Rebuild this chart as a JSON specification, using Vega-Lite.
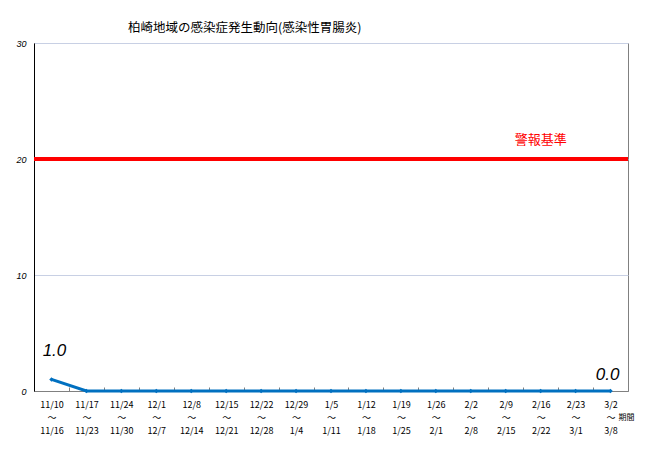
{
  "$schema": "https://vega.github.io/schema/vega-lite/v6.json",
  "autosize": "none",
  "width": 594,
  "height": 348,
  "padding": {"left": 34, "top": 43, "right": 20, "bottom": 67},
  "background": "white",
  "title": {
    "text": "柏崎地域の感染症発生動向(感染性胃腸炎)",
    "anchor": "start",
    "dx": 112,
    "offset": 5,
    "font": "Noto Sans CJK JP",
    "fontSize": 12.5,
    "fontWeight": "normal",
    "color": "black"
  },
  "data": {
    "values": [
      {"week": "11/10~11/16", "value": 1.0},
      {"week": "11/17~11/23", "value": 0},
      {"week": "11/24~11/30", "value": 0},
      {"week": "12/1~12/7", "value": 0},
      {"week": "12/8~12/14", "value": 0},
      {"week": "12/15~12/21", "value": 0},
      {"week": "12/22~12/28", "value": 0},
      {"week": "12/29~1/4", "value": 0},
      {"week": "1/5~1/11", "value": 0},
      {"week": "1/12~1/18", "value": 0},
      {"week": "1/19~1/25", "value": 0},
      {"week": "1/26~2/1", "value": 0},
      {"week": "2/2~2/8", "value": 0},
      {"week": "2/9~2/15", "value": 0},
      {"week": "2/16~2/22", "value": 0},
      {"week": "2/23~3/1", "value": 0},
      {"week": "3/2~3/8", "value": 0.0}
    ]
  },
  "layer": [
    {
      "mark": {
        "type": "line",
        "color": "#0070C0",
        "strokeWidth": 3,
        "point": {"shape": "diamond", "size": 20, "filled": true, "color": "#0070C0"}
      },
      "encoding": {
        "x": {
          "field": "week",
          "type": "ordinal",
          "sort": null,
          "scale": {"paddingInner": 0, "paddingOuter": 0},
          "axis": {
            "title": "期間",
            "titleX": 584,
            "titleY": 26,
            "titleAlign": "left",
            "titleBaseline": "middle",
            "titleFont": "Noto Sans CJK JP",
            "titleFontSize": 8,
            "titleFontWeight": "normal",
            "titleColor": "black",
            "labelAngle": 0,
            "labelExpr": "isString(datum.value) && indexof(datum.value, '~') >= 0 ? [split(datum.value,'~')[0], '〜', split(datum.value,'~')[1]] : ''",
            "labelFont": "Noto Sans CJK JP",
            "labelFontSize": 9,
            "labelLineHeight": 13,
            "labelColor": "black",
            "labelPadding": 13,
            "tickBand": "extent",
            "tickSize": -4,
            "tickColor": "#808080",
            "domainColor": "#808080"
          }
        },
        "y": {
          "field": "value",
          "type": "quantitative",
          "scale": {"domain": [0, 30]},
          "axis": {
            "title": null,
            "values": [0, 10, 20, 30],
            "labelFont": "Liberation Sans",
            "labelFontStyle": "italic",
            "labelFontSize": 9,
            "labelColor": "black",
            "labelPadding": 8,
            "ticks": false,
            "domainColor": "black",
            "gridColor": "#c8d0e4",
            "grid": true
          }
        }
      }
    },
    {
      "mark": {"type": "rule", "color": "red", "strokeWidth": 4},
      "encoding": {"y": {"datum": 20, "type": "quantitative"}}
    },
    {
      "mark": {
        "type": "text",
        "color": "red",
        "font": "Noto Sans CJK JP",
        "fontSize": 13,
        "dy": -19
      },
      "transform": [{"filter": {"field": "week", "equal": "2/16~2/22"}}],
      "encoding": {
        "x": {"field": "week", "type": "ordinal", "sort": null},
        "y": {"datum": 20, "type": "quantitative"},
        "text": {"value": "警報基準"}
      }
    },
    {
      "mark": {
        "type": "text",
        "font": "Liberation Sans",
        "fontStyle": "italic",
        "fontSize": 17,
        "color": "black",
        "dx": 3,
        "dy": -28
      },
      "transform": [{"filter": {"field": "week", "oneOf": ["11/10~11/16"]}}],
      "encoding": {
        "x": {"field": "week", "type": "ordinal", "sort": null},
        "y": {"field": "value", "type": "quantitative"},
        "text": {"field": "value", "type": "quantitative", "format": ".1f"}
      }
    },
    {
      "mark": {
        "type": "text",
        "font": "Liberation Sans",
        "fontStyle": "italic",
        "fontSize": 17,
        "color": "black",
        "dx": -3,
        "dy": -16
      },
      "transform": [{"filter": {"field": "week", "oneOf": ["3/2~3/8"]}}],
      "encoding": {
        "x": {"field": "week", "type": "ordinal", "sort": null},
        "y": {"field": "value", "type": "quantitative"},
        "text": {"field": "value", "type": "quantitative", "format": ".1f"}
      }
    }
  ],
  "config": {
    "view": {"stroke": "#808080", "strokeWidth": 1},
    "axis": {"domainWidth": 1}
  }
}
